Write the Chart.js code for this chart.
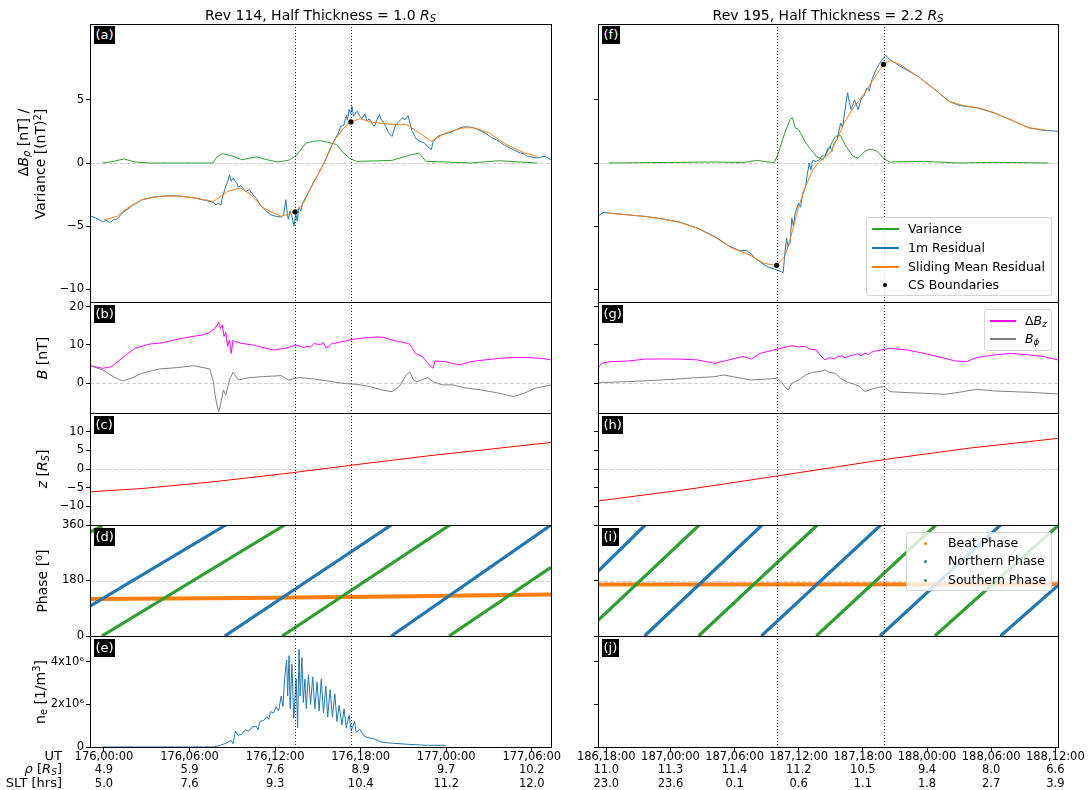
<!DOCTYPE html>
<html lang="en">
<head>
<meta charset="UTF-8">
<title>Current sheet crossings, Rev 114 and Rev 195</title>
<script src="https://cdn.jsdelivr.net/npm/chart.js@4.4.0/dist/chart.umd.min.js"></script>
<style>
  body { margin: 0; background: #fff; width: 1088px; height: 790px; position: relative; overflow: hidden;
         font-family: 'DejaVu Sans', sans-serif; color: #000; }
  canvas { position: absolute; z-index: 1; }
  .txt, .ylab, .tag, .leg, .row { position: absolute; z-index: 2; white-space: nowrap; }
  sub, sup { font-size: 70%; line-height: 0; }
  sub { vertical-align: -0.25em; }
  sup { vertical-align: 0.45em; }
  .title { font-size: 14px; line-height: 20px; text-align: center; top: 5px; }
  .ylab { font-size: 14px; line-height: 17px; text-align: right; transform: translate(-50%, -50%) rotate(-90deg); }
  .tag { background: #000; color: #fff; font-size: 13px; line-height: 18px; padding: 0 1.5px; }
  .row { left: 0; width: 62px; text-align: right; font-size: 13px; line-height: 16px; }
  .leg { background: rgba(255,255,255,0.8); border: 1px solid #d4d4d4; border-radius: 3px; box-sizing: border-box; font-size: 12.5px; }
  .leg div { position: absolute; left: 0; height: 16px; line-height: 16px; }
  .leg .h { position: absolute; top: 7px; height: 2px; display: block; }
  .leg .d { position: absolute; border-radius: 50%; }
  .leg span.t { position: absolute; top: 0; }
</style>
</head>
<body>
<div class="txt title" style="left:90px;width:461px">Rev 114, Half Thickness = 1.0 <i>R</i><sub><i>S</i></sub></div>
<div class="txt title" style="left:598px;width:460px">Rev 195, Half Thickness = 2.2 <i>R</i><sub><i>S</i></sub></div>

<div class="ylab" style="left:31.5px;top:164px">Δ<i>B</i><sub><i>ρ</i></sub> [nT] /<br>Variance [(nT)<sup>2</sup>]</div>
<div class="ylab" style="left:42px;top:357.5px"><i>B</i> [nT]</div>
<div class="ylab" style="left:42px;top:469px"><i>z</i> [<i>R</i><sub><i>S</i></sub>]</div>
<div class="ylab" style="left:42px;top:580.5px">Phase [<sup>o</sup>]</div>
<div class="ylab" style="left:40px;top:691.5px">n<sub>e</sub> [1/m<sup>3</sup>]</div>

<div class="tag" style="left:94px;top:26px">(a)</div>
<div class="tag" style="left:94px;top:305px">(b)</div>
<div class="tag" style="left:94px;top:416px">(c)</div>
<div class="tag" style="left:94px;top:528px">(d)</div>
<div class="tag" style="left:94px;top:639px">(e)</div>
<div class="tag" style="left:602px;top:26px">(f)</div>
<div class="tag" style="left:602px;top:305px">(g)</div>
<div class="tag" style="left:602px;top:416px">(h)</div>
<div class="tag" style="left:602px;top:528px">(i)</div>
<div class="tag" style="left:602px;top:639px">(j)</div>

<div class="row" style="top:748px">UT</div>
<div class="row" style="top:761.3px"><i>ρ</i> [<i>R</i><sub><i>S</i></sub>]</div>
<div class="row" style="top:774.7px">SLT [hrs]</div>

<div class="leg" style="left:866px;top:217px;width:186px;height:79px">
  <div style="top:3px;width:100%"><span class="h" style="left:5px;width:27px;background-color:#2ca02c"></span><span class="t" style="left:41px">Variance</span></div>
  <div style="top:22px;width:100%"><span class="h" style="left:5px;width:27px;background-color:#1f77b4"></span><span class="t" style="left:41px">1m Residual</span></div>
  <div style="top:41px;width:100%"><span class="h" style="left:5px;width:27px;background-color:#ff7f0e"></span><span class="t" style="left:41px">Sliding Mean Residual</span></div>
  <div style="top:59px;width:100%"><span class="d" style="left:16px;top:6px;width:4px;height:4px;background:#000"></span><span class="t" style="left:41px">CS Boundaries</span></div>
</div>
<div class="leg" style="left:984px;top:309px;width:68px;height:42px">
  <div style="top:3px;width:100%"><span class="h" style="left:5px;width:26px;background-color:#ff00ff"></span><span class="t" style="left:40px">Δ<i>B</i><sub><i>z</i></sub></span></div>
  <div style="top:21px;width:100%"><span class="h" style="left:5px;width:26px;background-color:#808080"></span><span class="t" style="left:40px"><i>B</i><sub><i>ϕ</i></sub></span></div>
</div>
<div class="leg" style="left:906px;top:532px;width:146px;height:59px">
  <div style="top:2px;width:100%"><span class="d" style="left:16.5px;top:6.5px;width:3px;height:3px;background:#ff7f0e"></span><span class="t" style="left:41px">Beat Phase</span></div>
  <div style="top:20px;width:100%"><span class="d" style="left:16.5px;top:6.5px;width:3px;height:3px;background:#1f77b4"></span><span class="t" style="left:41px">Northern Phase</span></div>
  <div style="top:39px;width:100%"><span class="d" style="left:16.5px;top:6.5px;width:3px;height:3px;background:#2ca02c"></span><span class="t" style="left:41px">Southern Phase</span></div>
</div>

<script>
// x values are hours after the first labelled tick (176,00:00 for Rev 114, 186,18:00 for Rev 195)
var ut114 = ['176,00:00', '176,06:00', '176,12:00', '176,18:00', '177,00:00', '177,06:00'];
var rho114 = ['4.9', '5.9', '7.6', '8.9', '9.7', '10.2'];
var slt114 = ['5.0', '7.6', '9.3', '10.4', '11.2', '12.0'];
var ut195 = ['186,18:00', '187,00:00', '187,06:00', '187,12:00', '187,18:00', '188,00:00', '188,06:00', '188,12:00'];
var rho195 = ['11.0', '11.3', '11.4', '11.2', '10.5', '9.4', '8.0', '6.6'];
var slt195 = ['23.0', '23.6', '0.1', '0.6', '1.1', '1.8', '2.7', '3.9'];

var cs114 = [13.4, 17.32];
var cs195 = [15.94, 25.93];

var res114 = [[-0.98,-4.18],[-0.6,-4.35],[-0.1,-4.63],[0.2,-4.55],[0.4,-4.71],[0.65,-4.5],[0.9,-4.44],[1.28,-3.97],[1.9,-3.44],[2.66,-2.91],[3.66,-2.65],[4.5,-2.6],[5.16,-2.59],[6.42,-2.78],[7.2,-2.98],[7.67,-3.12],[7.85,-3.3],[8.05,-3.17],[8.2,-3.35],[8.3,-2.78],[8.5,-2.0],[8.67,-1.5],[8.8,-0.93],[8.92,-1.45],[9.05,-1.2],[9.17,-1.4],[9.3,-1.55],[9.42,-1.9],[9.6,-1.8],[9.92,-2.25],[10.2,-2.1],[10.43,-2.5],[10.7,-2.8],[10.93,-3.3],[11.3,-3.7],[11.68,-4.1],[12.0,-4.2],[12.43,-4.29],[12.6,-4.1],[12.76,-2.9],[12.85,-4.0],[12.93,-4.45],[13.05,-3.8],[13.18,-4.2],[13.33,-5.0],[13.45,-4.0],[13.55,-4.6],[13.68,-3.5],[13.8,-3.8],[13.93,-3.2],[14.2,-2.6],[14.44,-2.1],[14.7,-1.5],[14.94,-1.06],[15.2,-0.5],[15.44,0],[15.7,0.7],[15.94,1.32],[16.2,1.9],[16.44,2.38],[16.6,2.9],[16.82,3.0],[17.0,3.8],[17.07,3.4],[17.19,4.23],[17.3,3.9],[17.39,4.5],[17.5,3.7],[17.57,3.85],[17.75,4.1],[17.94,3.7],[18.1,3.5],[18.3,3.9],[18.45,3.3],[18.6,3.5],[18.8,3.1],[18.95,2.9],[19.1,3.3],[19.32,3.84],[19.45,3.4],[19.57,3.3],[19.75,2.9],[19.95,2.4],[20.2,2.1],[20.45,3.0],[20.7,3.3],[20.95,3.57],[21.1,3.4],[21.33,3.75],[21.45,3.2],[21.58,2.6],[21.8,2.1],[21.95,1.85],[22.2,1.7],[22.46,1.6],[22.7,1.3],[22.96,1.06],[23.08,1.7],[23.4,2.1],[23.71,2.25],[24.1,2.35],[24.46,2.5],[24.8,2.7],[25.21,2.86],[25.6,2.85],[25.96,2.78],[26.3,2.6],[26.72,2.38],[27.2,2.0],[27.72,1.72],[28.1,1.4],[28.47,1.19],[28.8,1.0],[29.22,0.79],[29.5,0.7],[29.72,0.53],[30.1,0.45],[30.48,0.4],[30.75,0.5],[30.98,0.53],[31.2,0.35],[31.35,0.26]];
var mean114 = [[0.02,-4.5],[0.9,-4.23],[1.65,-3.57],[2.66,-2.9],[3.91,-2.65],[5.16,-2.6],[6.42,-2.78],[7.67,-3.04],[8.67,-2.25],[9.55,-1.98],[10.18,-2.38],[11.18,-3.57],[12.43,-4.23],[13.4,-3.86],[13.93,-3.3],[14.69,-1.59],[15.44,0],[16.19,1.85],[16.82,2.78],[17.32,3.25],[17.94,3.5],[18.95,3.2],[20.2,3.05],[21.2,3.05],[21.95,2.5],[22.96,1.72],[23.96,2.38],[25.21,2.78],[25.96,2.78],[26.97,2.4],[28.22,1.46],[29.47,0.8],[30.35,0.53]];
var var114 = [[-0.1,0],[0.65,0.13],[1.4,0.32],[2.16,0.08],[3.16,0],[7.62,0],[7.92,0.48],[8.3,0.74],[8.92,0.58],[9.67,0.26],[10.68,0.48],[11.43,0.26],[12.18,0.08],[12.93,0.21],[13.43,0.53],[14.19,1.59],[14.69,1.72],[15.19,1.77],[15.69,1.64],[16.32,1.46],[16.69,0.93],[17.19,0.4],[17.69,0.13],[18.95,0.16],[20.2,0.21],[21.45,0.63],[22.08,0.79],[22.58,0.13],[23.96,0.08],[25.71,0],[27.72,0.18],[29.22,0.08],[30.35,0]];
var bounds114 = [[13.4,-3.86],[17.32,3.25]];

var bz114 = [[-0.98,4.6],[-0.1,3.9],[0.53,4.35],[1.4,6.96],[2.16,9.1],[3.16,10.2],[4.16,10.6],[5.16,11.5],[6.17,12.2],[6.92,12.6],[7.42,13.3],[7.79,14.3],[8.05,15.9],[8.17,14.3],[8.3,15.2],[8.42,12.2],[8.55,13.3],[8.67,9.6],[8.8,11.3],[8.92,7.8],[9.05,11.3],[9.17,10.9],[9.67,10.4],[10.43,10.0],[11.18,9.3],[11.93,8.7],[12.68,9.1],[13.0,9.4],[13.43,10.0],[13.7,9.8],[14.0,9.3],[14.19,9.6],[14.5,9.5],[14.75,10.4],[14.94,10.2],[15.2,10.1],[15.4,10.6],[15.56,9.3],[15.8,9.6],[16.0,10.5],[16.19,10.4],[16.5,10.7],[16.94,11.0],[17.3,11.4],[17.69,11.6],[18.2,11.8],[18.7,11.9],[19.1,12.1],[19.57,12.0],[20.2,11.3],[20.6,10.9],[20.95,10.7],[21.2,10.5],[21.45,10.2],[21.6,9.3],[21.83,7.8],[22.33,7.0],[22.71,5.2],[23.08,3.9],[23.21,5.8],[23.96,5.65],[24.71,4.96],[24.96,4.8],[25.71,5.65],[26.72,6.1],[27.72,6.5],[28.72,6.7],[29.72,6.7],[30.73,6.5],[31.35,6.1]];
var bphi114 = [[-0.98,4.6],[-0.1,3.5],[0.65,1.74],[1.28,0.6],[1.9,1.3],[2.66,2.6],[3.91,3.74],[5.16,4.1],[6.29,4.6],[7.42,3.74],[7.67,0.43],[7.79,-3.0],[7.92,-5.65],[8.05,-7.4],[8.17,-5.65],[8.37,-1.74],[8.55,-3.0],[8.8,0.87],[9.05,2.87],[9.17,2.2],[9.42,0.87],[10.18,1.48],[11.18,1.74],[12.43,2.0],[12.93,0.87],[13.68,1.48],[14.69,1.13],[15.69,0.6],[16.94,-0.1],[17.69,-0.26],[18.7,-0.87],[19.45,-1.74],[20.2,-2.17],[20.7,-0.87],[21.2,2.17],[21.45,3.0],[21.7,0.87],[21.95,0.4],[22.71,1.48],[23.08,0.43],[23.71,-0.43],[24.46,-0.4],[25.21,-1.13],[26.47,-1.74],[27.72,-2.6],[28.72,-3.48],[29.47,-2.6],[30.23,-1.3],[31.35,-0.43]];
var z114 = [[-0.98,-6.1],[2.66,-5.23],[7.67,-3.42],[10.18,-2.34],[13.4,-0.9],[17.32,1.0],[22.71,3.51],[31.35,7.1]];
var beat114 = [[-0.98,120],[10,123],[20,128],[31.35,135]];
var north114 = [[-0.98,97],[8.55,360],null,[8.47,0],[20.15,360],null,[20.15,0],[31.35,360]];
var south114 = [[-0.98,336],[-0.1,358],null,[-0.15,0],[12.68,360],null,[12.5,0],[24.26,360],null,[24.2,0],[31.35,223]];
// electron density in units of 10^6 m^-3
var ne114 = [[-0.1,0],[7.67,0],[8.17,0.08],[8.55,0.18],[8.92,0.3],[9.05,0.15],[9.22,0.75],[9.4,0.55],[9.67,0.6],[9.9,0.8],[10.18,0.75],[10.4,0.95],[10.68,0.98],[10.8,0.8],[10.93,1.2],[11.2,1.25],[11.43,1.43],[11.55,1.3],[11.68,1.66],[11.9,1.6],[12.06,1.89],[12.25,1.7],[12.43,2.4],[12.55,1.9],[12.68,3.3],[12.81,4.1],[12.88,2.4],[12.98,4.3],[13.06,1.8],[13.18,3.9],[13.31,1.35],[13.38,2.1],[13.48,3.2],[13.58,0.9],[13.68,4.6],[13.76,2.4],[13.88,4.2],[13.98,2.1],[14.09,3.2],[14.19,1.8],[14.34,3.4],[14.49,2.0],[14.64,3.3],[14.79,1.8],[14.94,3.05],[15.09,1.7],[15.24,3.2],[15.39,1.6],[15.56,2.87],[15.69,1.4],[15.86,2.7],[16.02,1.4],[16.19,2.5],[16.34,1.2],[16.49,1.96],[16.69,1.05],[16.84,1.8],[16.99,0.9],[17.19,1.5],[17.34,0.75],[17.57,1.2],[17.69,0.68],[17.94,0.83],[18.2,0.55],[18.45,0.45],[18.95,0.38],[19.45,0.23],[20.2,0.18],[21.45,0.12],[22.71,0.08],[23.96,0.08]];

var res195 = [[-0.77,-4.18],[-0.28,-3.92],[0.37,-3.97],[2.0,-4.1],[3.63,-4.23],[5.27,-4.42],[6.9,-4.68],[8.53,-5.16],[10.16,-5.82],[11.47,-6.56],[12.45,-6.93],[13.1,-6.93],[13.43,-7.09],[14.08,-7.67],[15.06,-8.2],[15.94,-8.47],[16.37,-8.6],[16.55,-8.68],[16.7,-7.14],[16.86,-5.95],[17.0,-6.6],[17.19,-6.35],[17.35,-4.37],[17.5,-5.0],[17.67,-3.97],[18.0,-3.17],[18.16,-3.5],[18.4,-2.3],[18.65,-1.85],[18.8,-0.9],[18.98,0],[19.14,-0.53],[19.31,0.2],[19.63,0.13],[19.96,0.26],[20.2,0.6],[20.45,0.53],[20.7,1.1],[20.94,1.32],[21.1,0.9],[21.27,1.5],[21.59,1.85],[21.92,3.17],[22.1,2.8],[22.24,3.7],[22.57,5.56],[22.73,4.8],[22.9,4.23],[23.22,5.0],[23.55,4.23],[23.88,5.16],[24.1,5.3],[24.37,5.95],[24.6,5.7],[24.85,6.61],[25.18,7.28],[25.51,7.8],[25.93,8.33],[26.16,8.52],[26.49,8.2],[27.47,7.67],[29.1,6.88],[30.73,5.82],[32.04,4.89],[33.02,4.55],[34.65,4.37],[36.28,3.97],[37.91,3.39],[39.55,2.78],[40.85,2.59],[42.25,2.51]];
var mean195 = [[0.21,-3.97],[2.0,-4.1],[3.63,-4.23],[5.27,-4.44],[6.9,-4.71],[8.53,-5.16],[10.16,-5.87],[11.8,-6.75],[13.43,-7.28],[14.73,-7.94],[15.94,-8.1],[16.7,-7.41],[17.35,-5.56],[18.0,-3.44],[18.65,-1.85],[19.31,-0.53],[19.96,0.13],[20.94,0.79],[21.59,1.85],[22.24,3.17],[23.22,4.5],[24.2,5.56],[25.18,6.88],[25.93,7.8],[26.49,8.12],[27.47,7.8],[29.1,6.88],[30.73,5.82],[32.04,4.89],[33.34,4.55],[34.97,4.34],[36.28,3.97],[37.91,3.39],[39.55,2.78],[41.18,2.59]];
var var195 = [[0.21,0],[10.16,0.08],[12.77,0.03],[14.08,0.21],[15.39,0.05],[15.72,0.05],[16.04,0.66],[16.7,2.38],[17.19,3.44],[17.42,3.57],[17.67,2.78],[18.0,2.65],[18.65,1.59],[19.63,0.53],[20.29,0.26],[20.94,1.32],[21.43,2.12],[21.92,2.17],[22.41,1.32],[23.06,0.53],[23.55,0.4],[24.2,0.93],[24.69,1.11],[25.34,0.93],[26.0,0.32],[26.49,0.08],[29.75,0.13],[33.02,0],[36.28,0.05],[41.34,0]];
var bounds195 = [[15.94,-8.1],[25.93,7.8]];

var bz195 = [[-0.77,3.9],[-0.45,5.2],[0.37,5.65],[2.0,5.8],[3.63,6.3],[5.27,6.35],[6.9,6.3],[8.53,6.1],[10.16,5.2],[11.47,6.1],[12.77,7.0],[13.59,6.35],[14.41,7.8],[16.04,8.96],[17.35,9.8],[18.0,9.5],[18.65,9.6],[18.98,8.96],[19.63,8.7],[20.12,7.0],[20.45,6.1],[20.7,6.5],[20.94,6.7],[21.3,6.3],[21.6,6.9],[21.92,7.0],[22.0,7.2],[22.3,6.7],[22.6,6.9],[22.9,7.3],[23.22,7.4],[23.5,7.7],[23.8,7.2],[24.2,7.8],[24.5,7.5],[24.8,8.1],[25.18,8.4],[26.49,9.1],[28.12,8.7],[29.75,7.8],[31.38,6.7],[32.69,5.8],[33.67,5.65],[34.65,6.7],[36.28,7.4],[37.91,7.8],[39.55,7.4],[40.85,7.0],[42.25,6.1]];
var bphi195 = [[-0.77,0.26],[0.37,0.26],[2.0,0.43],[5.27,0.87],[8.53,1.48],[10.16,1.74],[10.98,2.17],[11.8,1.74],[13.43,0.87],[14.73,1.04],[15.94,1.3],[16.37,0.43],[16.7,-0.87],[17.02,-1.74],[17.35,0],[18.0,0.87],[18.65,2.17],[19.31,2.87],[19.96,3.04],[20.45,3.48],[20.78,2.9],[21.43,2.6],[21.92,1.3],[22.57,0.26],[23.22,-0.26],[23.71,-0.87],[24.2,-2.17],[24.85,-1.48],[25.34,-1.13],[26.0,-0.87],[26.49,-2.17],[28.12,-2.43],[29.75,-2.6],[31.71,-2.87],[33.02,-2.35],[34.65,-1.57],[36.28,-2.0],[39.55,-2.35],[42.25,-2.78]];
var z195 = [[-0.77,-8.56],[8,-5.3],[15.94,-1.9],[25.93,2.5],[34,5.6],[42.25,8.2]];
var beat195 = [[-0.77,167],[42.25,168]];
var north195 = [[-0.77,210],[3.64,360],null,[3.58,0],[14.57,360],null,[14.5,0],[25.67,360],null,[25.6,0],[36.87,360],null,[36.87,0],[42.25,164]];
var south195 = [[-0.77,51],[8.69,360],null,[8.63,0],[19.74,360],null,[19.64,0],[30.83,360],null,[30.73,0],[42.25,358]];

Chart.defaults.font.family = "'DejaVu Sans', sans-serif";
Chart.defaults.color = '#000';

var COLS = {
  L: { left: 90, right: 551, cx: 0, cw: 575, min: -0.98, max: 31.35, ticks: [0, 6, 12, 18, 24, 30],
       ut: ut114, rho: rho114, slt: slt114, cs: cs114, showY: true },
  R: { left: 598, right: 1058, cx: 560, cw: 528, min: -0.775, max: 42.25, ticks: [0, 6, 12, 18, 24, 30, 36, 42],
       ut: ut195, rho: rho195, slt: slt195, cs: cs195, showY: false }
};

function pts(arr) {
  var lastX = 0;
  return arr.map(function (p) {
    if (p === null) return { x: lastX, y: null };
    lastX = p[0];
    return { x: p[0], y: p[1] };
  });
}

function line(arr, color, width) {
  return { data: pts(arr), borderColor: color, borderWidth: width || 1, pointRadius: 0, fill: false, clip: 0, spanGaps: false };
}

function dots(arr) {
  return { data: pts(arr), showLine: false, pointRadius: 2.6, pointBorderWidth: 0, pointBackgroundColor: '#000', borderColor: '#000', clip: 0 };
}

function fmt(v) {
  return v < 0 ? '\u2212' + Math.abs(v) : String(v);
}

function decor(cs, refY) {
  return {
    id: 'decor',
    beforeDatasetsDraw: function (chart) {
      if (refY === null) return;
      var ctx = chart.ctx, a = chart.chartArea;
      var py = Math.round(chart.scales.y.getPixelForValue(refY)) + 0.5;
      ctx.save();
      ctx.strokeStyle = '#d0d0d0';
      ctx.lineWidth = 1;
      ctx.setLineDash([4, 2]);
      ctx.beginPath(); ctx.moveTo(a.left, py); ctx.lineTo(a.right, py); ctx.stroke();
      ctx.restore();
    },
    afterDatasetsDraw: function (chart) {
      var ctx = chart.ctx, a = chart.chartArea;
      ctx.save();
      ctx.strokeStyle = '#222';
      ctx.lineWidth = 1;
      ctx.setLineDash([1, 2]);
      cs.forEach(function (t) {
        var px = Math.round(chart.scales.x.getPixelForValue(t)) + 0.5;
        ctx.beginPath(); ctx.moveTo(px, a.top); ctx.lineTo(px, a.bottom); ctx.stroke();
      });
      ctx.setLineDash([]);
      ctx.strokeStyle = '#000';
      ctx.strokeRect(Math.round(a.left) + 0.5, Math.round(a.top) + 0.5, Math.round(a.right - a.left), Math.round(a.bottom - a.top));
      ctx.restore();
    }
  };
}

function panel(key, top, bottom, yMin, yMax, yTicks, refY, datasets, yFmt, withAxis) {
  var col = COLS[key];
  var pad = 9;
  var cy = top - pad;
  var ch = withAxis ? 790 - cy : bottom - top + 2 * pad;
  var c = document.createElement('canvas');
  c.width = col.cw; c.height = ch;
  c.style.left = col.cx + 'px'; c.style.top = cy + 'px';
  c.style.width = col.cw + 'px'; c.style.height = ch + 'px';
  document.body.appendChild(c);
  var tickGrid = { drawOnChartArea: false, drawTicks: true, tickLength: 4, color: '#000', lineWidth: 1 };
  new Chart(c, {
    type: 'line',
    data: { datasets: datasets },
    options: {
      responsive: false, animation: false, events: [],
      layout: { padding: { left: 0, top: pad, right: col.cx + col.cw - col.right, bottom: withAxis ? 0 : pad } },
      plugins: { legend: { display: false }, tooltip: { enabled: false } },
      elements: { line: { tension: 0 } },
      scales: {
        x: {
          type: 'linear', min: col.min, max: col.max, display: !!withAxis,
          afterBuildTicks: function (s) { s.ticks = col.ticks.map(function (v) { return { value: v }; }); },
          afterFit: function (s) { if (withAxis) s.height = 790 - bottom; },
          grid: tickGrid, border: { display: false },
          ticks: {
            autoSkip: false, maxRotation: 0, padding: -1, color: '#000',
            font: { size: 11.5, lineHeight: 1.17 },
            callback: function (v, i) { return [col.ut[i], col.rho[i], col.slt[i]]; }
          }
        },
        y: {
          type: 'linear', min: yMin, max: yMax,
          afterBuildTicks: function (s) { s.ticks = yTicks.map(function (v) { return { value: v }; }); },
          afterFit: function (s) { s.width = col.left - col.cx; },
          grid: tickGrid, border: { display: false },
          ticks: { display: col.showY, padding: 2, color: '#000', font: { size: 11.5 }, callback: yFmt || fmt }
        }
      }
    },
    plugins: [decor(col.cs, refY)]
  });
}

var neFmt = function (v) { return v === 0 ? '0' : v + 'x10\u2076'; };

// Rev 114
panel('L', 24, 302, -11, 11, [-10, -5, 0, 5], 0,
  [dots(bounds114), line(mean114, '#ff7f0e'), line(res114, '#1f77b4'), line(var114, '#2ca02c')]);
panel('L', 302, 413, -7.75, 21.2, [0, 10, 20], 0,
  [line(bphi114, '#808080'), line(bz114, '#ff00ff')]);
panel('L', 413, 525, -15, 15, [-10, -5, 0, 5, 10], 0,
  [line(z114, '#ff0000')]);
panel('L', 525, 636, 0, 360, [0, 180, 360], 180,
  [line(south114, '#2ca02c', 3.2), line(north114, '#1f77b4', 3.2), line(beat114, '#ff7f0e', 4)]);
panel('L', 636, 747, 0, 5.22, [0, 2, 4], null,
  [line(ne114, '#1f77b4')], neFmt, true);

// Rev 195
panel('R', 24, 302, -11, 11, [-10, -5, 0, 5], 0,
  [dots(bounds195), line(mean195, '#ff7f0e'), line(res195, '#1f77b4'), line(var195, '#2ca02c')]);
panel('R', 302, 413, -7.75, 21.2, [0, 10, 20], 0,
  [line(bphi195, '#808080'), line(bz195, '#ff00ff')]);
panel('R', 413, 525, -15, 15, [-10, -5, 0, 5, 10], 0,
  [line(z195, '#ff0000')]);
panel('R', 525, 636, 0, 360, [0, 180, 360], 180,
  [line(south195, '#2ca02c', 3.2), line(north195, '#1f77b4', 3.2), line(beat195, '#ff7f0e', 4)]);
panel('R', 636, 747, 0, 5.22, [0, 2, 4], null, [], neFmt, true);
</script>
</body>
</html>
